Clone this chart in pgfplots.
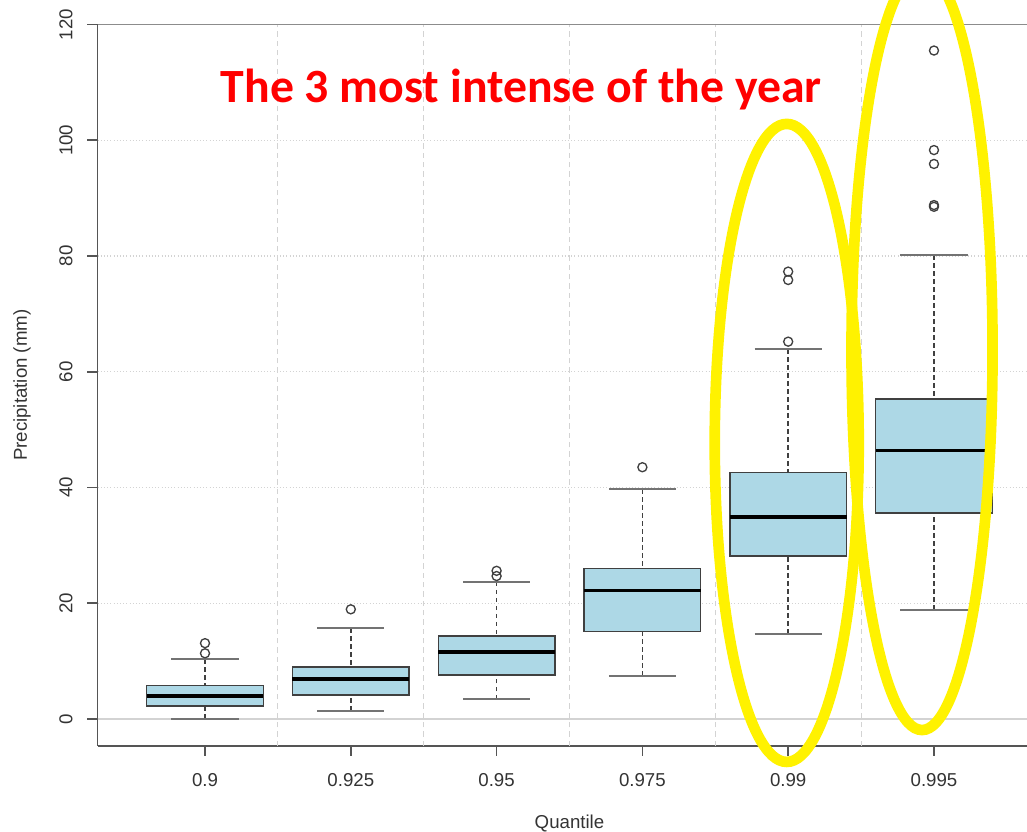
\documentclass[border=0pt]{standalone}
\usepackage{pgfplots}
\pgfplotsset{compat=1.18}
\usepgfplotslibrary{statistics}
\usepackage{fontspec}
\setmainfont{Liberation Sans}
\newfontfamily\calfont{Carlito}
\definecolor{boxfill}{HTML}{ADD8E6}
\definecolor{axisgray}{HTML}{555555}
\definecolor{gridgray}{HTML}{D3D3D3}
\begin{document}
\begin{tikzpicture}
\begin{axis}[
  name=ax,
  scale only axis,
  width=697.1pt, height=541.1pt,
  xmin=0.2627, xmax=6.638,
  ymin=-4.665, ymax=120,
  clip=false,
  axis lines*=left,
  axis line style={-, draw=axisgray, line width=1.2pt},
  tick align=outside,
  major tick length=7.5pt,
  tick style={draw=axisgray, line width=1.2pt},
  xtick={1,2,3,4,5,6},
  xticklabels={0.9,0.925,0.95,0.975,0.99,0.995},
  ytick={0,20,40,60,80,100,120},
  /pgf/number format/assume math mode=true,
  tick label style={font=\fontsize{14}{16}\selectfont, text=black!80},
  yticklabel style={rotate=90, anchor=south, inner sep=0pt, yshift=11pt},
  xticklabel style={anchor=north, inner sep=0pt, yshift=-12.75pt},
  ymajorgrids,
  major grid style={draw=gridgray, dotted, line width=0.8pt},
  boxplot/draw direction=y,
  boxplot/box extend=0.8,
  boxplot/whisker extend=0.46,
  boxplot/every box/.style={draw=black!75, fill=boxfill, line width=1.1pt},
  boxplot/every median/.style={draw=black, line width=2.7pt},
  boxplot/every whisker/.style={draw=black!75, line width=1.1pt},
  boxplot/draw/lower whisker/.code={%
    \draw[/pgfplots/boxplot/every whisker/.try, dash pattern=on 3.5pt off 2.5pt]
      (boxplot box cs:\pgfplotsboxplotvalue{lower whisker},0.5) --
      (boxplot box cs:\pgfplotsboxplotvalue{lower quartile},0.5);
    \draw[/pgfplots/boxplot/every whisker/.try, draw=black!55, line width=1.5pt]
      (boxplot whisker cs:\pgfplotsboxplotvalue{lower whisker},0) --
      (boxplot whisker cs:\pgfplotsboxplotvalue{lower whisker},1);
  },
  boxplot/draw/upper whisker/.code={%
    \draw[/pgfplots/boxplot/every whisker/.try, dash pattern=on 3.5pt off 2.5pt]
      (boxplot box cs:\pgfplotsboxplotvalue{upper whisker},0.5) --
      (boxplot box cs:\pgfplotsboxplotvalue{upper quartile},0.5);
    \draw[/pgfplots/boxplot/every whisker/.try, draw=black!55, line width=1.5pt]
      (boxplot whisker cs:\pgfplotsboxplotvalue{upper whisker},0) --
      (boxplot whisker cs:\pgfplotsboxplotvalue{upper whisker},1);
  },
]
% grid between categories and zero line
\pgfplotsinvokeforeach{1.5,2.5,3.5,4.5,5.5}{
  \draw[gridgray, dash pattern=on 4pt off 3pt, line width=0.8pt] (axis cs:#1,-4.665) -- (axis cs:#1,120);
}
\draw[gridgray, line width=1pt] (axis cs:0.2627,0) -- (axis cs:6.638,0);
\draw[black!45, line width=1.3pt] (rel axis cs:0,1) -- (rel axis cs:1,1);

\addplot[boxplot prepared={draw position=1, lower whisker=0, lower quartile=2.25, median=4.0, upper quartile=5.75, upper whisker=10.3},
  mark=o, mark size=3.4pt, mark options={draw=black!75, line width=1pt}]
  coordinates {(0,11.35) (0,13.1)};
\addplot[boxplot prepared={draw position=2, lower whisker=1.45, lower quartile=4.15, median=6.9, upper quartile=9.0, upper whisker=15.7},
  mark=o, mark size=3.4pt, mark options={draw=black!75, line width=1pt}]
  coordinates {(0,18.95)};
\addplot[boxplot prepared={draw position=3, lower whisker=3.4, lower quartile=7.6, median=11.6, upper quartile=14.3, upper whisker=23.7},
  mark=o, mark size=3.4pt, mark options={draw=black!75, line width=1pt}]
  coordinates {(0,24.7) (0,25.6)};
\addplot[boxplot prepared={draw position=4, lower whisker=7.5, lower quartile=15.1, median=22.2, upper quartile=26.0, upper whisker=39.7},
  mark=o, mark size=3.4pt, mark options={draw=black!75, line width=1pt}]
  coordinates {(0,43.5)};
\addplot[boxplot prepared={draw position=5, lower whisker=14.7, lower quartile=28.2, median=34.85, upper quartile=42.6, upper whisker=63.9},
  mark=o, mark size=3.4pt, mark options={draw=black!75, line width=1pt}]
  coordinates {(0,65.2) (0,75.85) (0,77.3)};
\addplot[boxplot prepared={draw position=6, lower whisker=18.9, lower quartile=35.6, median=46.4, upper quartile=55.3, upper whisker=80.1},
  mark=o, mark size=3.4pt, mark options={draw=black!75, line width=1pt}]
  coordinates {(0,88.5) (0,88.8) (0,95.9) (0,98.3) (0,115.5)};

% annotations
\node[anchor=base, text=red, font=\calfont\bfseries\fontsize{35.8}{40}\selectfont, inner sep=0pt]
  at (axis cs:3.17,106.6) {The 3 most intense of the year};
\draw[yellow, line width=8pt] (axis cs:4.99,47.7) ellipse [x radius=54pt, y radius=239.25pt];
\draw[yellow, line width=8pt] (axis cs:5.918,63.75) ellipse [x radius=52.9pt, y radius=285pt];

% axis titles
\node[font=\fontsize{14}{16}\selectfont, text=black!80] at (axis cs:3.5,-18.14) {Quantile};
\node[rotate=90, font=\fontsize{14}{16}\selectfont, text=black!80] at (axis cs:-0.255,57.67) {Precipitation (mm)};
\end{axis}
\pgfresetboundingbox
\path[use as bounding box] ([xshift=-73.125pt,yshift=-64.5pt]ax.south west) rectangle ([yshift=18.375pt]ax.north east);
\end{tikzpicture}
\end{document}
